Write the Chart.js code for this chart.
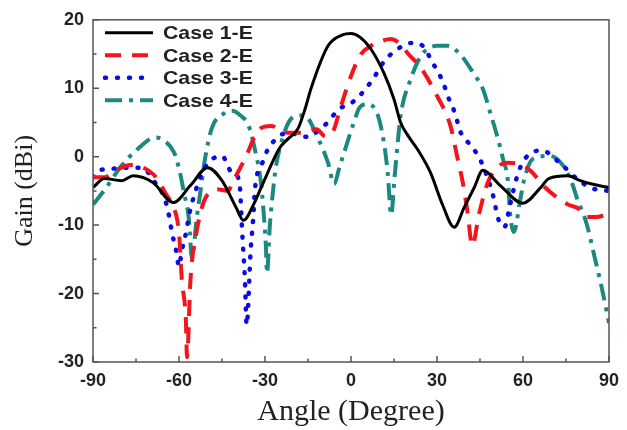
<!DOCTYPE html>
<html>
<head>
<meta charset="utf-8">
<script src="https://cdn.jsdelivr.net/npm/chart.js@4"></script>
<style>
    body { margin: 0; background: #fff; }
    #wrap { width: 627px; height: 430px; }
</style>
</head>
<body>
<div id="wrap"><canvas id="gain"></canvas></div>
<script>
// angle (deg) / gain (dBi)
var case1Angle = [-90,-86,-80,-76,-69,-62,-56,-50,-45,-40,-37.5,-34,-31,-25,-22,-18.5,-16,-14,-8,-3,0,3,7,11.5,15,17.3,20,23,27.7,32,36,39.5,43,46,52,60,66,69,75.6,80,84,90];
var case1Gain  = [-4.5,-3.2,-3.5,-2.8,-3.8,-6.7,-4.2,-1.6,-3.5,-7.5,-9.3,-7,-4.2,1.2,2.6,4.1,7,9.9,16.2,17.8,18,17.5,15.7,12.2,8.4,5,3,1.2,-2.3,-7.1,-10.3,-7.4,-4.5,-2,-4.2,-6.8,-4.6,-3.2,-2.8,-3.5,-4,-4.5];

var case2Angle = [-90,-86,-82,-77,-73,-68,-64.5,-62.4,-60,-59,-57.6,-57.2,-56,-53.8,-50.3,-46,-43,-41,-37,-32,-28,-22,-17,-12,-9,-6.5,-3.5,0,3.5,7,10,14,17.3,20,24,30,34.7,37,39,40.6,42.3,44.7,48,54.5,60,63,67,72,76.3,79,82,85.7,90];
var case2Gain  = [-3,-3,-2,-1.2,-1.5,-3,-5.5,-7,-11.2,-18,-23.9,-29.3,-18,-10.8,-5.7,-4.8,-5,-3.5,-0.3,4,4.5,3.5,3.5,4,3,3.5,7.4,11.8,15,16.2,16.8,17.2,16.4,15,13.2,8.9,4.5,0.1,-3.8,-7.9,-13,-8.3,-3.5,-0.9,-1.3,-2.2,-4.2,-6,-7.1,-7.5,-8.8,-8.8,-8.3];

var case3Angle = [-90,-88,-84,-80,-73,-68.3,-65,-63.5,-62.4,-61,-60,-59,-57.6,-56.5,-53,-50,-45,-41.6,-39,-37.8,-37,-36.4,-35,-34,-33.6,-31,-28.8,-21.8,-16,-9.4,-4,0,3,7.6,11.7,17.3,21,24.3,28.8,32,34,36.4,38,42.7,46,50,51,53.5,55.5,58,60.7,66.6,72.8,78.7,84,90];
var case3Gain  = [-3,-2,-1.8,-1.6,-1.6,-3.8,-6.1,-8.6,-11.2,-13.7,-16,-13.7,-11.2,-8.6,-3.5,-1,0.1,-2.3,-3.5,-12.2,-18,-24.6,-13.7,-8.3,-5.2,-1,1.2,3.5,2.9,4.5,7,7.8,8.9,11.3,14,16,16.6,16.4,13.5,11,8.6,6.2,3.8,1.2,-1.3,-6.4,-8.6,-10.3,-7,-2.8,-0.3,0.9,-0.9,-3.2,-4.6,-5];

var case4Angle = [-90,-85.7,-80,-75,-68.3,-65,-61.7,-60,-58.3,-56.5,-55.5,-53.8,-52.5,-51,-48.6,-44,-41.6,-38.5,-35.7,-33.6,-31.5,-30.5,-29.7,-29.3,-28.3,-27.2,-26.2,-24,-21.8,-19,-16.3,-11.4,-8,-5.9,-4,-2.4,1,3,5.9,9.4,11.5,12.8,14,15.2,16.3,17.3,20.8,24.3,27,30,33.6,38,42.7,46,48.6,51,53,54.8,55.5,56.8,59,60.3,63.5,69.4,74,77.4,78.7,82.2,85,87.4,90];
var case4Gain  = [-7,-4.7,-1.3,0.9,2.8,2.3,0.6,-1.7,-5.2,-9.3,-14.8,-8.9,-5,-0.5,4.1,6.4,6.7,6,4.5,1.2,-3.5,-8,-13,-17,-10,-5,-1.5,2.5,5,6,6,2.6,-0.9,-4,-1.5,0.6,5,7.2,7.7,6,2,-2.3,-8.5,-3,2,6,11.3,14.7,15.8,16.2,16.2,15,12.2,9.9,6.4,3,-0.3,-3.8,-8.3,-11,-6.4,-3.5,-0.3,0.1,-1.3,-4.2,-5.9,-9.8,-14.7,-19,-24.3];

var seriesNames = ['Case 1-E', 'Case 2-E', 'Case 3-E', 'Case 4-E'];
var xTicks = [-90, -60, -30, 0, 30, 60, 90];
var yTicks = [-30, -20, -10, 0, 10, 20];

function toPoints(xs, ys) {
    var pts = [];
    for (let i = 0; i < xs.length; i++) {
        pts.push({x: xs[i], y: ys[i]});
    }
    return pts;
}

// legend drawn inside the plot, top left
var insideLegend = {
    id: 'insideLegend',
    afterDatasetsDraw: function (chart) {
        var ctx = chart.ctx;
        var area = chart.chartArea;
        chart.data.datasets.forEach(function (ds, i) {
            var y = area.top + 13 + i * 22.5;
            ctx.save();
            ctx.strokeStyle = ds.borderColor;
            ctx.lineWidth = ds.borderWidth;
            ctx.lineCap = ds.borderCapStyle || 'butt';
            ctx.setLineDash(ds.borderDash || []);
            ctx.beginPath();
            ctx.moveTo(area.left + 12, y);
            ctx.lineTo(area.left + 60, y);
            ctx.stroke();
            ctx.restore();

            ctx.save();
            ctx.fillStyle = '#222';
            ctx.font = 'bold 19px "Liberation Sans", Arial, sans-serif';
            ctx.textBaseline = 'middle';
            ctx.translate(area.left + 70, y + 1);
            ctx.scale(1.12, 1);
            ctx.fillText(ds.label, 0, 0);
            ctx.restore();
        });
    }
};

// box around the plot and inward tick marks
var frameTicks = {
    id: 'frameTicks',
    afterDraw: function (chart) {
        var ctx = chart.ctx;
        var a = chart.chartArea;
        var xs = chart.scales.x, ys = chart.scales.y;
        ctx.save();
        ctx.strokeStyle = '#555';
        ctx.lineWidth = 1.5;
        ctx.strokeRect(a.left, a.top, a.right - a.left, a.bottom - a.top);
        ctx.beginPath();
        for (let v = xs.min; v <= xs.max; v += 15) {
            var px = xs.getPixelForValue(v);
            var len = (v % 30 === 0) ? 6 : 3.5;
            ctx.moveTo(px, a.bottom);
            ctx.lineTo(px, a.bottom - len);
        }
        for (let v = ys.min; v <= ys.max; v += 5) {
            var py = ys.getPixelForValue(v);
            var len2 = (v % 10 === 0) ? 6 : 3.5;
            ctx.moveTo(a.left, py);
            ctx.lineTo(a.left + len2, py);
        }
        ctx.stroke();
        ctx.restore();
    }
};

var tickFont = {family: '"Liberation Sans", Arial, sans-serif', size: 18, weight: 'bold'};

var ctx = document.getElementById('gain').getContext('2d');
var myGain = new Chart(ctx, {
    type: 'line',
    data: {
        datasets: [{
            label: seriesNames[0],
            data: toPoints(case1Angle, case1Gain),
            borderColor: '#000000',
            borderWidth: 3
        }, {
            label: seriesNames[1],
            data: toPoints(case2Angle, case2Gain),
            borderColor: '#f5141c',
            borderWidth: 4,
            borderDash: [16, 11]
        }, {
            label: seriesNames[2],
            data: toPoints(case3Angle, case3Gain),
            borderColor: '#0a0ae6',
            borderWidth: 4.5,
            borderDash: [1, 11],
            borderCapStyle: 'round'
        }, {
            label: seriesNames[3],
            data: toPoints(case4Angle, case4Gain),
            borderColor: '#1b8882',
            borderWidth: 4,
            borderDash: [17, 7, 4, 7]
        }]
    },
    options: {
        responsive: true,
        maintainAspectRatio: false,
        animation: false,
        layout: {padding: {left: 0, right: 10, top: 19, bottom: 0}},
        elements: {
            point: {radius: 0, hoverRadius: 0},
            line: {cubicInterpolationMode: 'monotone', fill: false}
        },
        plugins: {
            legend: {display: false},
            tooltip: {enabled: false}
        },
        scales: {
            x: {
                type: 'linear',
                min: -90,
                max: 90,
                afterFit: function (scale) { scale.height = 68; },
                afterBuildTicks: function (scale) {
                    scale.ticks = xTicks.map(function (v) { return {value: v}; });
                },
                grid: {display: false, drawTicks: false},
                border: {display: false},
                ticks: {color: '#222', font: tickFont, padding: 8, maxRotation: 0},
                title: {
                    display: true,
                    text: 'Angle (Degree)',
                    color: '#222',
                    font: {family: '"Liberation Serif", "Times New Roman", serif', size: 30},
                    padding: {top: 1, bottom: 0}
                }
            },
            y: {
                type: 'linear',
                min: -30,
                max: 20,
                afterFit: function (scale) { scale.width = 93; },
                afterBuildTicks: function (scale) {
                    scale.ticks = yTicks.map(function (v) { return {value: v}; });
                },
                grid: {display: false, drawTicks: false},
                border: {display: false},
                ticks: {color: '#222', font: tickFont, padding: 9},
                title: {
                    display: true,
                    text: 'Gain (dBi)',
                    color: '#222',
                    font: {family: '"Liberation Serif", "Times New Roman", serif', size: 26},
                    padding: {top: 10, bottom: 0}
                }
            }
        }
    },
    plugins: [insideLegend, frameTicks]
});
</script>
</body>
</html>
